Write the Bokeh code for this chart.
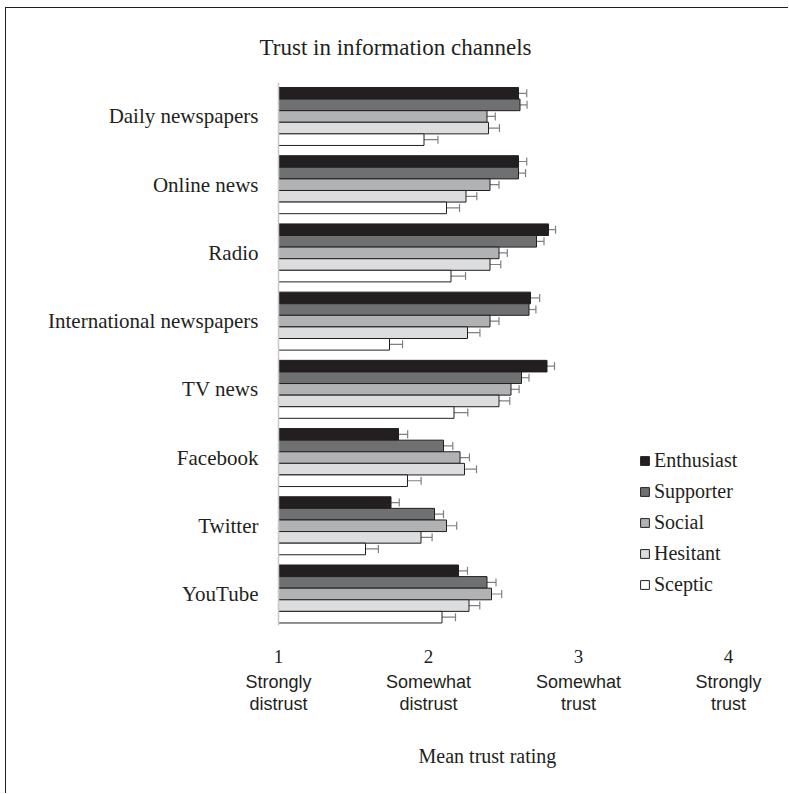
from bokeh.plotting import figure
from bokeh.models import (ColumnDataSource, Range1d, FixedTicker, LinearAxis, Whisker,
                          TeeHead, Legend, LegendItem)
from bokeh.embed import file_html
from bokeh.resources import INLINE

channels = ["Daily newspapers", "Online news", "Radio", "International newspapers",
            "TV news", "Facebook", "Twitter", "YouTube"]
groups = ["Enthusiast", "Supporter", "Social", "Hesitant", "Sceptic"]

enthusiast = [2.60, 2.60, 2.80, 2.68, 2.79, 1.80, 1.75, 2.20]
supporter = [2.61, 2.60, 2.72, 2.67, 2.62, 2.10, 2.04, 2.39]
social = [2.39, 2.41, 2.47, 2.41, 2.55, 2.21, 2.12, 2.42]
hesitant = [2.40, 2.25, 2.41, 2.26, 2.47, 2.24, 1.95, 2.27]
sceptic = [1.97, 2.12, 2.15, 1.74, 2.17, 1.86, 1.58, 2.09]

err_enthusiast = [0.055, 0.055, 0.047, 0.061, 0.050, 0.061, 0.055, 0.060]
err_supporter = [0.047, 0.047, 0.050, 0.046, 0.050, 0.062, 0.060, 0.060]
err_social = [0.055, 0.060, 0.055, 0.060, 0.054, 0.063, 0.068, 0.068]
err_hesitant = [0.073, 0.072, 0.072, 0.083, 0.072, 0.080, 0.074, 0.072]
err_sceptic = [0.093, 0.087, 0.097, 0.087, 0.092, 0.091, 0.086, 0.090]

tick_values = [1, 2, 3, 4]
tick_numbers = ["1", "2", "3", "4"]
tick_words = ["Strongly\ndistrust", "Somewhat\ndistrust", "Somewhat\ntrust", "Strongly\ntrust"]
x_title = "Mean trust rating"
chart_title = "Trust in information channels"

series = [enthusiast, supporter, social, hesitant, sceptic]
errors = [err_enthusiast, err_supporter, err_social, err_hesitant, err_sceptic]
colors = ["#231f20", "#6f7072", "#b1b2b4", "#dcddde", "#ffffff"]

SERIF = "Liberation Serif"
SANS = "Liberation Sans"


def plain_axis(ax):
    ax.axis_line_color = None
    ax.major_tick_line_color = None
    ax.minor_tick_line_color = None
    ax.major_label_text_color = "#231f20"


n = len(channels)
p = figure(width=783, height=786, output_backend="svg", toolbar_location=None,
           x_range=Range1d(1, 4.28), y_range=Range1d(-0.462, 7.498),
           min_border_left=272, min_border_right=19, min_border_top=74, min_border_bottom=169,
           x_axis_location=None, y_axis_location=None)
p.styles = {"margin-left": "5px", "margin-top": "7px",
            "border-left": "1px solid #231f20", "border-top": "1px solid #231f20"}
p.outline_line_color = None
p.xgrid.visible = False
p.ygrid.visible = False

bar_h = 0.170
items = []
for k, (name, vals, errs, col) in enumerate(zip(groups, series, errors, colors)):
    ys = [(n - 1 - i) + (2 - k) * bar_h for i in range(n)]
    src = ColumnDataSource(dict(y=ys, v=vals,
                                lo=[a - b for a, b in zip(vals, errs)],
                                hi=[a + b for a, b in zip(vals, errs)]))
    r = p.hbar(y="y", left=1, right="v", height=bar_h, source=src,
               fill_color=col, line_color="#231f20", line_width=1)
    items.append(LegendItem(label=name, renderers=[r]))
    w = Whisker(source=src, base="y", lower="lo", upper="hi", dimension="width",
                line_color="#808080", line_width=1.2,
                upper_head=TeeHead(size=8, line_color="#808080", line_width=1.2),
                lower_head=TeeHead(size=8, line_color="#808080", line_width=1.2))
    p.add_layout(w)

# chart title, placed as a single-label axis above the bars
title_pos = 1.78
tax = LinearAxis(ticker=FixedTicker(ticks=[title_pos]),
                 major_label_overrides={title_pos: chart_title})
plain_axis(tax)
tax.major_label_standoff = 17
tax.major_label_text_font = SERIF
tax.major_label_text_font_size = "23px"
p.add_layout(tax, "above")

# y axis (categories)
yax = LinearAxis(ticker=FixedTicker(ticks=list(range(n))),
                 major_label_overrides={n - 1 - i: c for i, c in enumerate(channels)})
plain_axis(yax)
yax.axis_line_color = "#c8c8c8"
yax.axis_line_width = 1.5
yax.major_label_standoff = 14
yax.major_label_text_font = SERIF
yax.major_label_text_font_size = "21px"
p.add_layout(yax, "left")

# x axis numbers
xax = LinearAxis(ticker=FixedTicker(ticks=tick_values),
                 major_label_overrides={v: s for v, s in zip(tick_values, tick_numbers)})
plain_axis(xax)
xax.major_label_standoff = 18
xax.major_label_text_font = SERIF
xax.major_label_text_font_size = "19px"
p.add_layout(xax, "below")

# x axis words
xax2 = LinearAxis(ticker=FixedTicker(ticks=tick_values),
                  major_label_overrides={v: s for v, s in zip(tick_values, tick_words)})
plain_axis(xax2)
xax2.major_label_standoff = 0
xax2.major_label_text_font = SANS
xax2.major_label_text_font_size = "18px"
xax2.major_label_text_line_height = 1.12
p.add_layout(xax2, "below")

# axis title placed under the left part of the scale
xt_pos = 2.393
xax3 = LinearAxis(ticker=FixedTicker(ticks=[xt_pos]),
                  major_label_overrides={xt_pos: x_title})
plain_axis(xax3)
xax3.major_label_standoff = 22
xax3.major_label_text_font = SERIF
xax3.major_label_text_font_size = "20px"
p.add_layout(xax3, "below")

legend = Legend(items=items, location=(361, 29), glyph_width=11, glyph_height=11,
                label_text_font=SERIF, label_text_font_size="20px", label_text_color="#231f20",
                label_height=17, spacing=8, label_standoff=4, padding=0, margin=0,
                border_line_color=None, background_fill_alpha=0)
p.add_layout(legend)

open("out.html", "w").write(file_html(p, INLINE))
